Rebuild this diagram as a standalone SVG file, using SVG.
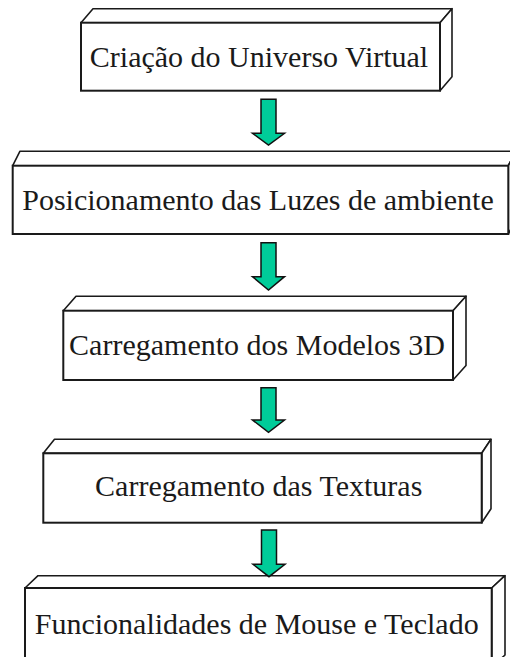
<svg xmlns="http://www.w3.org/2000/svg" width="510" height="657" viewBox="0 0 510 657">
<style>
.face{fill:#ffffff;stroke:#1a1a1a;stroke-width:1.6;stroke-linejoin:round}
.front{fill:#ffffff;stroke:#1a1a1a;stroke-width:2}
.lbl{font-family:"Liberation Serif","Times New Roman",serif;font-size:30px;fill:#1a1a1a;text-anchor:middle}
.arr{fill:#00cc99;stroke:#111111;stroke-width:1.5;stroke-linejoin:miter}
</style>
<rect width="510" height="657" fill="#ffffff"/>
<g id="node1">
<polygon class="face" points="81,22.7 93,8.7 452,8.7 440,22.7"/>
<polygon class="face" points="440,22.7 452,8.7 452,76.7 440,90.7"/>
<rect class="front" x="81" y="22.7" width="359" height="68"/>
<text class="lbl" x="259" y="67">Criação do Universo Virtual</text>
</g>
<g id="node2">
<polygon class="face" points="12.7,165.7 20,151.2 516,151.2 508.3,165.7"/>
<polygon class="face" points="508.3,165.7 516,151.2 516,219.5 508.3,234"/>
<rect class="front" x="12.7" y="165.7" width="495.6" height="68.3"/>
<text class="lbl" x="258" y="210">Posicionamento das Luzes de ambiente</text>
</g>
<g id="node3">
<polygon class="face" points="63.3,310.7 76,296.2 466,296.2 453,310.7"/>
<polygon class="face" points="453,310.7 466,296.2 466,365.5 453,380"/>
<rect class="front" x="63.3" y="310.7" width="389.7" height="69.3"/>
<text class="lbl" x="257" y="355">Carregamento dos Modelos 3D</text>
</g>
<g id="node4">
<polygon class="face" points="43.3,453.3 54.5,439.3 491,439.3 481.7,453.3"/>
<polygon class="face" points="481.7,453.3 491,439.3 491,508.7 481.7,522.7"/>
<rect class="front" x="43.3" y="453.3" width="438.4" height="69.4"/>
<text class="lbl" x="258.7" y="496">Carregamento das Texturas</text>
</g>
<g id="node5">
<polygon class="face" points="25,588 38,575.7 505,575.7 491.7,588"/>
<polygon class="face" points="491.7,588 505,575.7 505,655 491.7,667"/>
<rect class="front" x="25" y="588" width="466.7" height="85"/>
<text class="lbl" x="256.7" y="634">Funcionalidades de Mouse e Teclado</text>
</g>
<g id="connectors">
<polygon class="arr" points="261,99.3 276,99.3 276,133.3 284.5,133.3 268.5,145 252.5,133.3 261,133.3"/>
<polygon class="arr" points="261,242.7 276,242.7 276,276.7 284.5,276.7 268.5,290 252.5,276.7 261,276.7"/>
<polygon class="arr" points="261,387.7 276,387.7 276,420 284.5,420 268.5,432.3 252.5,420 261,420"/>
<polygon class="arr" points="261.5,530 276.5,530 276.5,564.3 285,564.3 269,576.7 253,564.3 261.5,564.3"/>
</g>
</svg>
